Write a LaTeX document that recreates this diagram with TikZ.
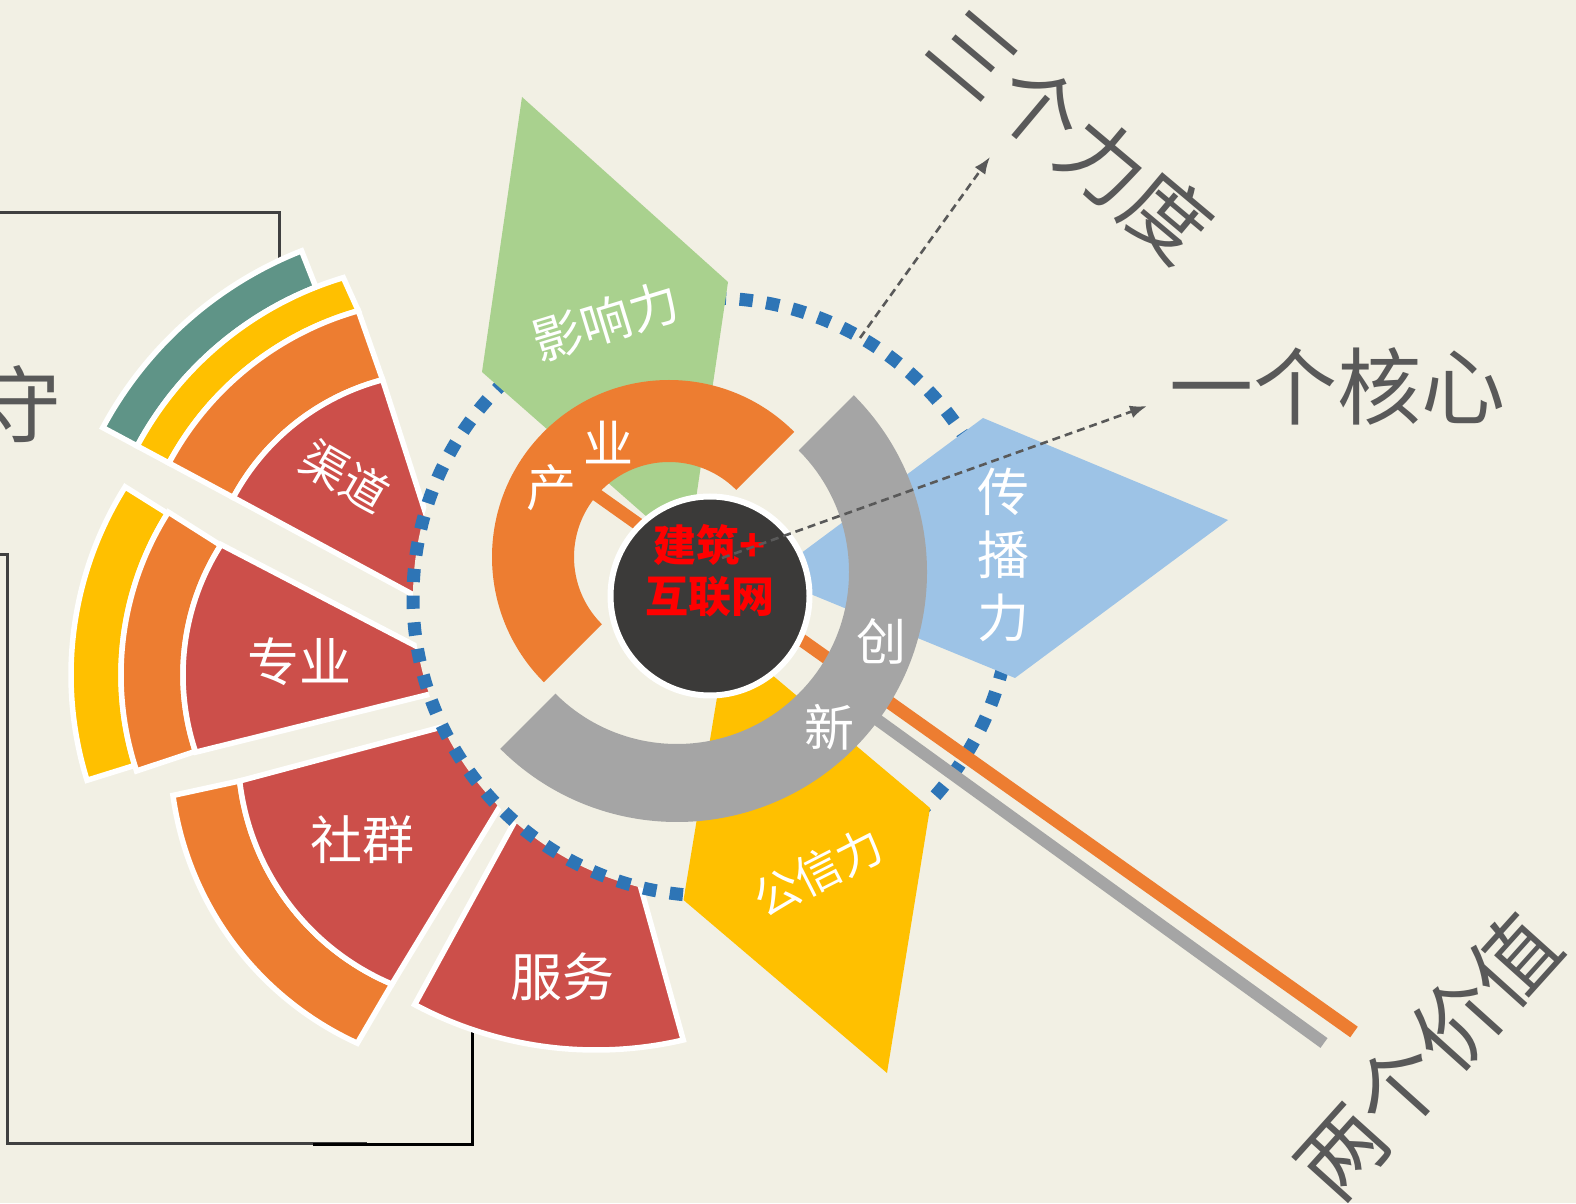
\documentclass[tikz,border=0pt]{standalone}
\usepackage{fontspec}
\newfontfamily\cjk{Noto Sans CJK SC}
\usetikzlibrary{arrows.meta}
\definecolor{paper}{RGB}{242,240,228}
\definecolor{ink}{RGB}{89,89,89}
\definecolor{rule}{RGB}{64,64,64}
\definecolor{sea}{RGB}{95,148,135}
\definecolor{gold}{RGB}{255,192,0}
\definecolor{tangerine}{RGB}{237,125,49}
\definecolor{brick}{RGB}{204,79,74}
\definecolor{leaf}{RGB}{169,209,142}
\definecolor{sky}{RGB}{157,195,230}
\definecolor{ash}{RGB}{165,165,165}
\definecolor{dots}{RGB}{46,117,182}
\definecolor{coal}{RGB}{59,58,57}
\tikzset{
  {fan seg/.style} ={draw=white, line width=5.5pt},
  {frame/.style} ={draw=rule, line width=3pt},
  {dot ring/.style} ={fill=paper, draw=dots, line width=13pt,
                      dash pattern=on 13.3pt off 13.5pt},
  {core/.style} ={circle, fill=coal, draw=white, line width=6pt,
                  minimum size=199pt, inner sep=0},
  {core label/.style} ={font=\cjk\fontsize{43}{51}\bfseries\selectfont,
                        text=red, align=center, inner sep=0},
  {big label/.style} ={font=\cjk\fontsize{84}{84}\selectfont, text=ink, inner sep=0},
  seg label/.style ={font=\cjk\fontsize{#1}{#1}\selectfont, text=white, inner sep=0},
  seg label/.default = 50,
  {pointer/.style} ={draw=ink, line width=2.6pt, dash pattern=on 8pt off 5pt,
                     -{Latex[length=17pt,width=13pt]}},
}
\begin{document}
\begin{tikzpicture}[x=1pt,y=1pt]
\path[use as bounding box, fill=paper] (0,0) rectangle (1576,1203);
% frames
\draw[frame] (-3,990) -- (279,990) -- (279,930);
\draw[frame] (-3,648) -- (7,648) -- (7,60) -- (367,60);
\draw[frame, draw=black] (313,59) -- (472,59) -- (472,180);
\node[big label, anchor=east] (keep) at (62,799) {守};
% fan
\begin{scope}[shift={(443,593)}]
\filldraw[fan seg, fill=sea] (151.8:347) arc[start angle=151.8, end angle=111.5, radius=347]
  -- (111.5:386) arc[start angle=111.5, end angle=151.8, radius=386] -- cycle;
\filldraw[fan seg, fill=gold] (151.8:311) arc[start angle=151.8, end angle=105.8, radius=311]
  -- (106.7:347) arc[start angle=106.7, end angle=151.8, radius=347] -- cycle;
\filldraw[fan seg, fill=tangerine] (151.8:238) arc[start angle=151.8, end angle=104.7, radius=238]
  -- (105.8:311) arc[start angle=105.8, end angle=151.8, radius=311] -- cycle;
\filldraw[fan seg, fill=brick] (17,-10) -- (151.8:238)
  arc[start angle=151.8, end angle=104.7, radius=238] -- cycle;
\end{scope}
\begin{scope}[shift={(425,528)}]
\filldraw[fan seg, fill=gold] (147.9:304) arc[start angle=147.9, end angle=197.3, radius=304]
  -- (197.3:354) arc[start angle=197.3, end angle=147.9, radius=354] -- cycle;
\filldraw[fan seg, fill=tangerine] (147.6:242) arc[start angle=147.6, end angle=198.4, radius=242]
  -- (198.4:304) arc[start angle=198.4, end angle=147.6, radius=304] -- cycle;
\filldraw[fan seg, fill=brick] (58,-6) -- (147.4:242)
  arc[start angle=147.4, end angle=198.6, radius=242] -- cycle;
\end{scope}
\begin{scope}[shift={(490,451)}]
\filldraw[fan seg, fill=tangerine] (186.6:252) arc[start angle=186.6, end angle=247.1, radius=252]
  -- (245.5:320) arc[start angle=245.5, end angle=187.8, radius=320] -- cycle;
\filldraw[fan seg, fill=brick] (79,59) -- (186.6:252)
  arc[start angle=186.6, end angle=247.1, radius=252] -- cycle;
\end{scope}
\begin{scope}[shift={(596,538)}]
\filldraw[fan seg, fill=brick] (-10,-26) -- (241.9:385)
  arc[start angle=241.9, end angle=283.1, radius=385] -- cycle;
\end{scope}
\filldraw[dot ring] (712,606) circle[radius=299];
% petals
\fill[leaf] (522,1106) -- (728,921) -- (688,650) -- (482,831) -- cycle;
\fill[sky] (983,785) -- (1228,683) -- (1015,525) -- (769,626) -- cycle;
\fill[gold] (930,395) -- (887,130) -- (683.5,303) -- (727,566) -- cycle;
% bars and rings
\draw[tangerine, line width=13pt] (590,713) -- (1354,171);
\draw[ash, line width=12pt] (850,503) -- (1324,160);
\begin{scope}[shift={(669,646)}]
\fill[tangerine] (45:177) arc[start angle=45, end angle=225, radius=177]
  -- (225:95) arc[start angle=225, end angle=45, radius=95] -- cycle;
\end{scope}
\begin{scope}[shift={(677,631)}]
\fill[ash] (225:250) arc[start angle=225, end angle=405, radius=250]
  -- (45:172) arc[start angle=45, end angle=-135, radius=172] -- cycle;
\end{scope}
\node[core] (core) at (710,607) {};
\node[core label] (coreText) at (710,632.5) {建筑+\\互联网};
% labels
\node[seg label=50, rotate=17] (influence) at (606,882) {影响力};
\node[seg label=46, rotate=27] (credit) at (818,331) {公信力};
\node[seg label=52, align=center, font=\cjk\fontsize{52}{63}\selectfont] (spread) at (1003,648) {传\\播\\力};
\node[seg label] (ind1) at (551,715) {产};
\node[seg label] (ind2) at (608,760) {业};
\node[seg label] (inn1) at (881,562) {创};
\node[seg label] (inn2) at (829,476) {新};
\node[seg label=46, rotate=-30] (channel) at (345,727) {渠道};
\node[seg label=52] (expert) at (299,541) {专业};
\node[seg label=52] (group) at (362,363) {社群};
\node[seg label=52] (service) at (562,226) {服务};
\node[big label, rotate=-40] (three) at (1071,1068) {三个力度};
\node[big label] (one) at (1337,817) {一个核心};
\node[big label, font=\cjk\fontsize{86}{86}\selectfont, rotate=48] (two) at (1428,147) {两个价值};
% pointers
\coordinate (hubStart) at (722,645);
\coordinate (hubTip) at (1147,797);
\coordinate (ringStart) at (860,865);
\coordinate (ringTip) at (990,1046);
\draw[pointer] (hubStart) -- (hubTip);
\draw[pointer] (ringStart) -- (ringTip);
\end{tikzpicture}
\end{document}
